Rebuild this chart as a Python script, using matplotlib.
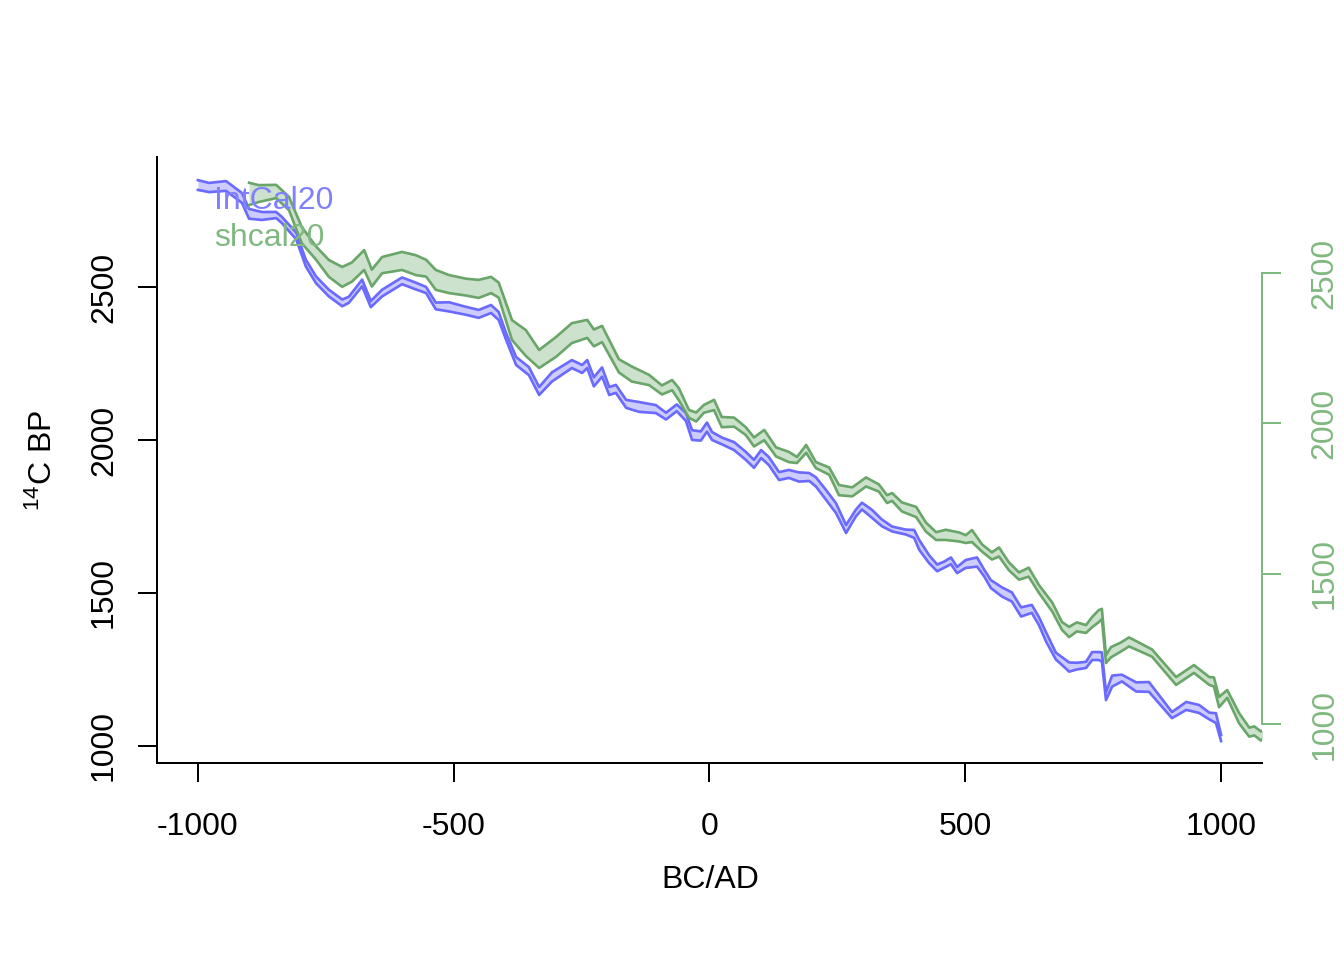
import numpy as np
import matplotlib.pyplot as plt

plt.rcParams['font.family'] = ['Liberation Sans', 'DejaVu Sans']
plt.rcParams['font.size'] = 12
plt.rcParams['mathtext.fontset'] = 'custom'
plt.rcParams['mathtext.rm'] = 'Liberation Sans'

# IntCal20 (cal BC/AD, 14C BP, 1 sd)
ic_x = [-1000, -978, -945, -914, -900, -875, -847, -836, -808, -789,
        -769, -744, -718, -705, -679, -662, -640, -601, -574, -554,
        -535, -509, -476, -451, -427, -412, -398, -378, -353, -333,
        -308, -269, -249, -239, -226, -210, -196, -183, -163, -138,
        -105, -85, -64, -46, -34, -17, -5, 5, 24, 48,
        71, 87, 101, 116, 136, 155, 175, 195, 208, 228,
        247, 267, 286, 298, 318, 337, 357, 384, 400, 410,
        429, 445, 458, 472, 484, 501, 523, 537, 550, 572,
        591, 609, 630, 644, 658, 677, 703, 718, 736, 748,
        761, 767, 775, 787, 806, 834, 859, 904, 932, 957,
        977, 990, 1000]
ic_bp = [2833, 2825, 2830, 2791, 2739, 2732, 2735, 2719, 2667, 2578,
         2523, 2480, 2448, 2458, 2513, 2444, 2480, 2520, 2503, 2490,
         2438, 2435, 2422, 2412, 2428, 2405, 2340, 2258, 2225, 2160,
         2206, 2248, 2232, 2248, 2190, 2222, 2160, 2167, 2118, 2108,
         2101, 2078, 2105, 2075, 2016, 2013, 2042, 2013, 1997, 1980,
         1948, 1922, 1954, 1931, 1882, 1889, 1879, 1879, 1863, 1820,
         1778, 1709, 1761, 1784, 1758, 1729, 1709, 1699, 1693, 1657,
         1611, 1582, 1592, 1605, 1575, 1595, 1601, 1565, 1529, 1503,
         1487, 1438, 1448, 1408, 1356, 1294, 1258, 1261, 1265, 1294,
         1294, 1291, 1163, 1212, 1222, 1193, 1193, 1101, 1131, 1121,
         1098, 1091, 1026]
ic_sd = [16, 15, 16, 16, 16, 13, 10, 10, 11, 11,
         11, 11, 11, 10, 11, 10, 11, 11, 11, 10,
         11, 15, 13, 13, 13, 13, 11, 13, 13, 13,
         15, 13, 13, 13, 15, 15, 13, 13, 13, 16,
         13, 11, 11, 13, 16, 15, 15, 13, 11, 13,
         13, 13, 13, 13, 13, 13, 15, 13, 15, 16,
         16, 13, 11, 11, 13, 11, 8, 8, 13, 16,
         13, 11, 10, 11, 10, 13, 15, 11, 13, 15,
         15, 15, 13, 13, 15, 11, 15, 11, 10, 13,
         13, 15, 13, 18, 11, 15, 16, 10, 13, 13,
         11, 16, 10]

# SHCal20 (plotted against the right-hand axis)
sh_x = [-900, -881, -847, -822, -797, -769, -744, -718, -699, -675,
        -660, -640, -601, -574, -554, -535, -509, -476, -451, -427,
        -412, -386, -359, -333, -300, -269, -239, -226, -210, -177,
        -152, -118, -93, -73, -60, -40, -26, -11, 9, 24,
        48, 71, 87, 107, 130, 155, 171, 189, 208, 234,
        253, 279, 306, 331, 347, 357, 376, 404, 423, 443,
        462, 488, 501, 513, 533, 552, 566, 585, 605, 624,
        644, 670, 689, 703, 718, 736, 748, 761, 767, 775,
        785, 804, 820, 865, 912, 947, 977, 986, 996, 1012,
        1035, 1055, 1065, 1078, 1098]
sh_bp = [2763, 2764, 2771, 2731, 2626, 2566, 2515, 2487, 2503, 2543,
         2483, 2526, 2540, 2526, 2516, 2477, 2463, 2453, 2447, 2460,
         2443, 2310, 2267, 2214, 2254, 2300, 2314, 2284, 2297, 2191,
         2164, 2144, 2111, 2127, 2097, 2031, 2021, 2048, 2061, 2004,
         2004, 1974, 1938, 1961, 1905, 1888, 1878, 1915, 1861, 1841,
         1778, 1772, 1805, 1785, 1748, 1755, 1722, 1705, 1655, 1625,
         1629, 1622, 1615, 1625, 1585, 1559, 1572, 1525, 1492, 1505,
         1449, 1389, 1326, 1306, 1323, 1316, 1339, 1359, 1366, 1216,
         1239, 1256, 1273, 1236, 1143, 1183, 1143, 1140, 1073, 1100,
         1020, 973, 977, 960, 987]
sh_sd = [37, 28, 22, 22, 27, 22, 28, 33, 32, 33,
         28, 27, 30, 33, 28, 33, 30, 28, 30, 27,
         25, 33, 43, 30, 33, 33, 30, 28, 27, 22,
         25, 17, 15, 17, 20, 13, 15, 13, 17, 17,
         15, 13, 15, 17, 15, 17, 10, 13, 10, 12,
         17, 15, 15, 12, 13, 13, 15, 17, 15, 13,
         17, 15, 13, 20, 12, 12, 15, 13, 12, 15,
         13, 15, 13, 17, 15, 13, 17, 20, 17, 13,
         17, 15, 15, 12, 13, 13, 13, 15, 17, 13,
         17, 15, 15, 15, 15]

xticks = [-1000, -500, 0, 500, 1000]
yticks = [1000, 1500, 2000, 2500]

ic_x = np.array(ic_x); ic_bp = np.array(ic_bp); ic_sd = np.array(ic_sd)
sh_x = np.array(sh_x); sh_bp = np.array(sh_bp); sh_sd = np.array(sh_sd)

blue_fill, blue_line, blue_txt = '#ccccff', '#6a6aff', '#8080ff'
green_fill, green_line, green_txt = '#cce2cc', '#6aa66a', '#80b880'

fig = plt.figure(figsize=(7, 5), dpi=192)
ax = fig.add_axes([0.1168, 0.2052, 0.8222, 0.6313])

ax.fill_between(ic_x, ic_bp - ic_sd, ic_bp + ic_sd, color=blue_fill, lw=0)
ax.plot(ic_x, ic_bp - ic_sd, color=blue_line, lw=1.0)
ax.plot(ic_x, ic_bp + ic_sd, color=blue_line, lw=1.0)

ax.set_xlim(-1080, 1080)
ax.set_ylim(944.4, 2924.8)
ax.spines['top'].set_visible(False)
ax.spines['right'].set_visible(False)
for s in ['left', 'bottom']:
    ax.spines[s].set_linewidth(0.75)
ax.set_xticks(xticks)
ax.set_xticklabels([str(v) for v in xticks])
ax.set_yticks(yticks)
ax.set_yticklabels([str(v) for v in yticks], rotation=90, va='center')
ax.tick_params(axis='both', direction='out', length=7.2, width=0.75)
ax.tick_params(axis='x', pad=11)
ax.tick_params(axis='y', pad=7)

ax2 = ax.twinx()
ax2.fill_between(sh_x, sh_bp - sh_sd, sh_bp + sh_sd, color=green_fill, lw=0)
ax2.plot(sh_x, sh_bp - sh_sd, color=green_line, lw=1.0)
ax2.plot(sh_x, sh_bp + sh_sd, color=green_line, lw=1.0)
ax2.set_xlim(-1080, 1080)
ax2.set_ylim(870.3, 2885.8)
for s in ['left', 'top', 'bottom']:
    ax2.spines[s].set_visible(False)
ax2.spines['right'].set_bounds(1000, 2500)
ax2.spines['right'].set_color(green_txt)
ax2.spines['right'].set_linewidth(0.75)
ax2.set_yticks(yticks)
ax2.set_yticklabels([str(v) for v in yticks], rotation=90, va='center')
ax2.tick_params(axis='y', direction='out', length=7.2, width=0.75,
                color=green_txt, labelcolor=green_txt, pad=10.5)

# curve names, on top of both bands
ax2.text(-969, 2782, 'IntCal20', color=blue_txt, ha='left', va='center',
         transform=ax.transData, zorder=5)
ax2.text(-969, 2660, 'shcal20', color=green_txt, ha='left', va='center',
         transform=ax.transData, zorder=5)

fig.text(710 / 1344, 1 - 880 / 960, 'BC/AD', ha='center', va='center')
fig.text(43 / 1344, 1 - 460 / 960, r'$\mathregular{^{14}}$C BP', rotation=90,
         ha='center', va='center')

fig.savefig('out.png', dpi=192)
